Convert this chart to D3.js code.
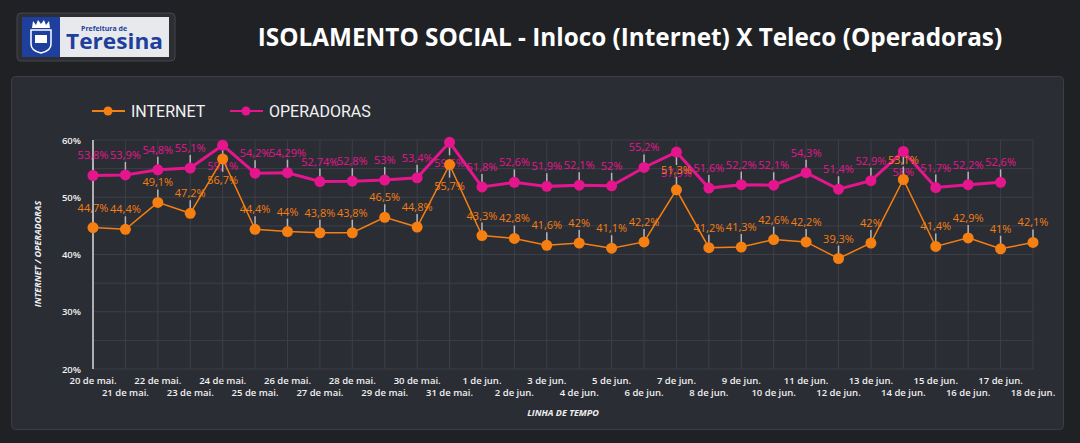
<!DOCTYPE html>
<html>
<head>
<meta charset="utf-8">
<script src="https://cdn.jsdelivr.net/npm/d3@7"></script>
<style>
  html, body { margin: 0; padding: 0; background: #202125; }
  svg { display: block; }
</style>
</head>
<body>
<script>
// dates shown on the x axis
const dates = [
  "20 de mai.", "21 de mai.", "22 de mai.", "23 de mai.", "24 de mai.", "25 de mai.",
  "26 de mai.", "27 de mai.", "28 de mai.", "29 de mai.", "30 de mai.", "31 de mai.",
  "1 de jun.", "2 de jun.", "3 de jun.", "4 de jun.", "5 de jun.", "6 de jun.",
  "7 de jun.", "8 de jun.", "9 de jun.", "10 de jun.", "11 de jun.", "12 de jun.",
  "13 de jun.", "14 de jun.", "15 de jun.", "16 de jun.", "17 de jun.", "18 de jun."
];

// Inloco (internet) isolation %
const internet = [
  44.7, 44.4, 49.1, 47.2, 56.7, 44.4, 44, 43.8, 43.8, 46.5, 44.8, 55.7,
  43.3, 42.8, 41.6, 42, 41.1, 42.2, 51.3, 41.2, 41.3, 42.6, 42.2, 39.3,
  42, 53.1, 41.4, 42.9, 41, 42.1
];

// Teleco (operadoras) isolation %, no value for 18 jun
const operadoras = [
  53.8, 53.9, 54.8, 55.1, 59.1, 54.2, 54.29, 52.74, 52.8, 53, 53.4, 59.6,
  51.8, 52.6, 51.9, 52.1, 52, 55.2, 57.9, 51.6, 52.2, 52.1, 54.3, 51.4,
  52.9, 58, 51.7, 52.2, 52.6
];

const yTicks = [20, 30, 40, 50, 60];
const yGrid = [20, 25, 30, 35, 40, 45, 50, 55, 60];

const W = 1080, H = 443;
const ORANGE = "#f57f11", MAGENTA = "#e5158e";

const svg = d3.select("body").append("svg")
    .attr("width", W)
    .attr("height", H);

svg.append("rect").attr("width", W).attr("height", H).attr("fill", "#202125");

// ---- logo box
const logo = svg.append("g");
logo.append("rect").attr("x", 17).attr("y", 13).attr("width", 158).attr("height", 48)
    .attr("rx", 4).attr("fill", "#2d2e33").attr("stroke", "#45464c");
logo.append("rect").attr("x", 22).attr("y", 17).attr("width", 147).attr("height", 40).attr("fill", "#e8e9ed");
logo.append("rect").attr("x", 22).attr("y", 17).attr("width", 38).attr("height", 40).attr("fill", "#1f3f9c");
// crude crest
logo.append("path")
    .attr("d", "M31,30 L51,30 L51,44 Q51,51 41,53 Q31,51 31,44 Z")
    .attr("fill", "none").attr("stroke", "#fff").attr("stroke-width", 1.5);
logo.append("path")
    .attr("d", "M32,28 L33,21 L36,25 L38,20 L41,24 L44,20 L46,25 L49,21 L50,28 Z")
    .attr("fill", "#fff");
logo.append("rect").attr("x", 35).attr("y", 35).attr("width", 12).attr("height", 8).attr("fill", "#fff");
logo.append("text").attr("x", 81).attr("y", 31)
    .attr("font-family", "Open Sans").attr("font-weight", 700).attr("font-size", 7)
    .attr("fill", "#1f3f9c").text("Prefeitura de");
logo.append("text").attr("x", 66).attr("y", 49)
    .attr("font-family", "Open Sans").attr("font-weight", 700).attr("font-size", 21)
    .attr("textLength", 97).attr("lengthAdjust", "spacingAndGlyphs")
    .attr("fill", "#1f3f9c").text("Teresina");

// ---- title
svg.append("text")
    .attr("x", 630).attr("y", 46)
    .attr("text-anchor", "middle")
    .attr("font-family", "Open Sans").attr("font-weight", 700).attr("font-size", 24.3)
    .attr("fill", "#ffffff")
    .text("ISOLAMENTO SOCIAL - Inloco (Internet) X Teleco (Operadoras)");

// ---- panel
svg.append("rect").attr("x", 11.5).attr("y", 76.5).attr("width", 1052).attr("height", 353)
    .attr("rx", 4).attr("fill", "#2b2d35").attr("stroke", "#3c3e46");

// ---- scales
const x = d3.scalePoint().domain(dates).range([93, 1033]);
const y = d3.scaleLinear().domain([20, 60]).range([369, 140]);

const plot = svg.append("g");

// grid
plot.selectAll(".hg").data(yGrid).join("line")
    .attr("x1", 93).attr("x2", 1033)
    .attr("y1", d => y(d)).attr("y2", d => y(d))
    .attr("stroke", "#3d3f47").attr("stroke-width", 1);
plot.selectAll(".vg").data(dates).join("line")
    .attr("x1", d => x(d)).attr("x2", d => x(d))
    .attr("y1", y(20)).attr("y2", y(60))
    .attr("stroke", "#3d3f47").attr("stroke-width", 1);

// y axis
plot.append("line").attr("x1", 93).attr("x2", 93).attr("y1", y(20)).attr("y2", y(60))
    .attr("stroke", "#d8d8d8").attr("stroke-width", 1.5);
plot.selectAll(".yt").data(yTicks).join("text")
    .attr("x", 81).attr("y", d => y(d) + 3.5)
    .attr("text-anchor", "end")
    .attr("font-family", "Open Sans").attr("font-weight", 600).attr("font-size", 9.5)
    .attr("fill", "#f0f0f0")
    .text(d => d + "%");

// x labels, staggered on two rows
plot.selectAll(".xt").data(dates).join("text")
    .attr("x", d => x(d))
    .attr("y", (d, i) => i % 2 === 0 ? 384 : 396)
    .attr("text-anchor", "middle")
    .attr("font-family", "Open Sans").attr("font-weight", 600).attr("font-size", 9.5)
    .attr("fill", "#f0f0f0")
    .text(d => d);

// axis titles
svg.append("text")
    .attr("transform", "translate(41,254) rotate(-90)")
    .attr("text-anchor", "middle")
    .attr("font-family", "Open Sans").attr("font-weight", 700).attr("font-style", "italic")
    .attr("font-size", 9).attr("fill", "#f0f0f0")
    .text("INTERNET / OPERADORAS");
svg.append("text")
    .attr("x", 563).attr("y", 416)
    .attr("text-anchor", "middle")
    .attr("font-family", "Open Sans").attr("font-weight", 700).attr("font-style", "italic")
    .attr("font-size", 9).attr("fill", "#f0f0f0")
    .text("LINHA DE TEMPO");

const fmt = v => String(v).replace(".", ",") + "%";

function drawSeries(values, color, width) {
  const pts = values.map((v, i) => ({ d: dates[i], v: v, below: v > 55.5 }));
  const g = plot.append("g");
  // leader lines
  g.selectAll("line").data(pts).join("line")
      .attr("x1", p => x(p.d)).attr("x2", p => x(p.d))
      .attr("y1", p => y(p.v))
      .attr("y2", p => p.below ? y(p.v) + 13 : y(p.v) - 13)
      .attr("stroke", "#b4b6bc").attr("stroke-width", 1.5);
  g.append("path").datum(pts)
      .attr("d", d3.line().x(p => x(p.d)).y(p => y(p.v)))
      .attr("fill", "none").attr("stroke", color).attr("stroke-width", width);
  g.selectAll("circle").data(pts).join("circle")
      .attr("cx", p => x(p.d)).attr("cy", p => y(p.v)).attr("r", 5.5)
      .attr("fill", color);
  g.selectAll("text").data(pts).join("text")
      .attr("x", p => x(p.d))
      .attr("y", p => p.below ? y(p.v) + 25 : y(p.v) - 16)
      .attr("text-anchor", "middle")
      .attr("font-family", "Open Sans").attr("font-size", 11)
      .attr("fill", color)
      .text(p => fmt(p.v));
}

drawSeries(operadoras, MAGENTA, 3);
drawSeries(internet, ORANGE, 1.5);

// ---- legend
const legend = [
  { name: "INTERNET", color: ORANGE, x: 92 },
  { name: "OPERADORAS", color: MAGENTA, x: 230 }
];
const lg = svg.selectAll(".lg").data(legend).join("g");
lg.append("line").attr("x1", d => d.x).attr("x2", d => d.x + 33)
    .attr("y1", 111).attr("y2", 111).attr("stroke", d => d.color).attr("stroke-width", 2);
lg.append("circle").attr("cx", d => d.x + 16).attr("cy", 111).attr("r", 4.5).attr("fill", d => d.color);
lg.append("text").attr("x", d => d.x + 39).attr("y", 117)
    .attr("font-family", "Roboto").attr("font-size", 16)
    .attr("fill", "#f2f2f2")
    .text(d => d.name);
</script>
</body>
</html>
